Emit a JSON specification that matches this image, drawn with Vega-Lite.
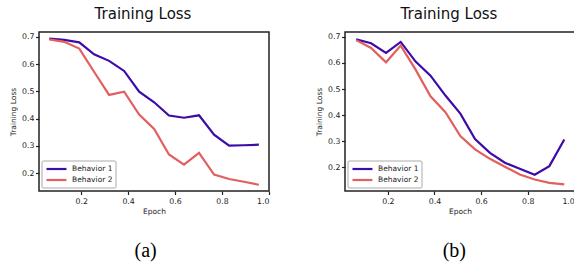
{
  "$schema": "https://vega.github.io/schema/vega-lite/v6.json",
  "background": "white",
  "padding": {"left": 8, "top": 6, "right": 0, "bottom": 0},
  "spacing": 43,
  "config": {
    "view": {"stroke": "#222", "strokeWidth": 1.5, "strokeOpacity": 1},
    "font": "DejaVu Sans",
    "axis": {
      "domain": false, "grid": false, "tickSize": 3.5, "tickColor": "#222", "tickWidth": 1.2, "tickOpacity": 1,
      "labelFont": "DejaVu Sans", "labelFontSize": 7.8, "labelColor": "#222",
      "titleFont": "DejaVu Sans", "titleFontSize": 7.5, "titleFontWeight": "normal", "titleColor": "#222"
    },
    "axisX": {"labelPadding": 2.5, "titlePadding": 3},
    "axisY": {"labelPadding": 1.5, "titlePadding": 4},
    "legend": {
      "labelFont": "DejaVu Sans", "labelFontSize": 7.5, "labelColor": "#222"
    },
    "title": {"font": "DejaVu Sans", "fontSize": 15, "fontWeight": "normal", "color": "#111"}
  },
  "datasets": {
    "a": [
      {"epoch": 0.064, "loss": 0.694, "series": "Behavior 1"},
      {"epoch": 0.128, "loss": 0.689, "series": "Behavior 1"},
      {"epoch": 0.192, "loss": 0.680, "series": "Behavior 1"},
      {"epoch": 0.255, "loss": 0.636, "series": "Behavior 1"},
      {"epoch": 0.319, "loss": 0.612, "series": "Behavior 1"},
      {"epoch": 0.383, "loss": 0.575, "series": "Behavior 1"},
      {"epoch": 0.447, "loss": 0.499, "series": "Behavior 1"},
      {"epoch": 0.511, "loss": 0.460, "series": "Behavior 1"},
      {"epoch": 0.574, "loss": 0.411, "series": "Behavior 1"},
      {"epoch": 0.638, "loss": 0.403, "series": "Behavior 1"},
      {"epoch": 0.702, "loss": 0.412, "series": "Behavior 1"},
      {"epoch": 0.766, "loss": 0.341, "series": "Behavior 1"},
      {"epoch": 0.830, "loss": 0.301, "series": "Behavior 1"},
      {"epoch": 0.893, "loss": 0.302, "series": "Behavior 1"},
      {"epoch": 0.957, "loss": 0.304, "series": "Behavior 1"},
      {"epoch": 0.064, "loss": 0.691, "series": "Behavior 2"},
      {"epoch": 0.128, "loss": 0.682, "series": "Behavior 2"},
      {"epoch": 0.192, "loss": 0.657, "series": "Behavior 2"},
      {"epoch": 0.255, "loss": 0.572, "series": "Behavior 2"},
      {"epoch": 0.319, "loss": 0.487, "series": "Behavior 2"},
      {"epoch": 0.383, "loss": 0.499, "series": "Behavior 2"},
      {"epoch": 0.447, "loss": 0.415, "series": "Behavior 2"},
      {"epoch": 0.511, "loss": 0.362, "series": "Behavior 2"},
      {"epoch": 0.574, "loss": 0.268, "series": "Behavior 2"},
      {"epoch": 0.638, "loss": 0.231, "series": "Behavior 2"},
      {"epoch": 0.702, "loss": 0.274, "series": "Behavior 2"},
      {"epoch": 0.766, "loss": 0.194, "series": "Behavior 2"},
      {"epoch": 0.830, "loss": 0.178, "series": "Behavior 2"},
      {"epoch": 0.893, "loss": 0.168, "series": "Behavior 2"},
      {"epoch": 0.957, "loss": 0.157, "series": "Behavior 2"}
    ],
    "b": [
      {"epoch": 0.064, "loss": 0.690, "series": "Behavior 1"},
      {"epoch": 0.128, "loss": 0.675, "series": "Behavior 1"},
      {"epoch": 0.192, "loss": 0.638, "series": "Behavior 1"},
      {"epoch": 0.255, "loss": 0.680, "series": "Behavior 1"},
      {"epoch": 0.319, "loss": 0.605, "series": "Behavior 1"},
      {"epoch": 0.383, "loss": 0.551, "series": "Behavior 1"},
      {"epoch": 0.447, "loss": 0.475, "series": "Behavior 1"},
      {"epoch": 0.511, "loss": 0.406, "series": "Behavior 1"},
      {"epoch": 0.574, "loss": 0.309, "series": "Behavior 1"},
      {"epoch": 0.638, "loss": 0.256, "series": "Behavior 1"},
      {"epoch": 0.702, "loss": 0.218, "series": "Behavior 1"},
      {"epoch": 0.766, "loss": 0.195, "series": "Behavior 1"},
      {"epoch": 0.830, "loss": 0.172, "series": "Behavior 1"},
      {"epoch": 0.893, "loss": 0.205, "series": "Behavior 1"},
      {"epoch": 0.957, "loss": 0.307, "series": "Behavior 1"},
      {"epoch": 0.064, "loss": 0.687, "series": "Behavior 2"},
      {"epoch": 0.128, "loss": 0.657, "series": "Behavior 2"},
      {"epoch": 0.192, "loss": 0.602, "series": "Behavior 2"},
      {"epoch": 0.255, "loss": 0.666, "series": "Behavior 2"},
      {"epoch": 0.319, "loss": 0.574, "series": "Behavior 2"},
      {"epoch": 0.383, "loss": 0.472, "series": "Behavior 2"},
      {"epoch": 0.447, "loss": 0.411, "series": "Behavior 2"},
      {"epoch": 0.511, "loss": 0.320, "series": "Behavior 2"},
      {"epoch": 0.574, "loss": 0.269, "series": "Behavior 2"},
      {"epoch": 0.638, "loss": 0.233, "series": "Behavior 2"},
      {"epoch": 0.702, "loss": 0.203, "series": "Behavior 2"},
      {"epoch": 0.766, "loss": 0.173, "series": "Behavior 2"},
      {"epoch": 0.830, "loss": 0.154, "series": "Behavior 2"},
      {"epoch": 0.893, "loss": 0.141, "series": "Behavior 2"},
      {"epoch": 0.957, "loss": 0.135, "series": "Behavior 2"}
    ]
  },
  "hconcat": [
    {
      "title": {"text": "(a)", "orient": "bottom", "anchor": "middle", "font": "Liberation Serif", "fontSize": 20, "color": "#000", "offset": 25, "dx": 6},
      "resolve": {"scale": {"color": "independent"}, "legend": {"color": "independent"}},
      "vconcat": [
        {
          "title": {"text": "Training Loss", "anchor": "middle", "offset": 10, "dx": -11},
          "width": 230, "height": 159,
          "data": {"name": "a"},
          "mark": {"type": "line", "strokeWidth": 2.2},
          "encoding": {
            "x": {"field": "epoch", "type": "quantitative", "scale": {"domain": [0.0205, 1.0], "nice": false, "zero": false},
                  "axis": {"values": [0.2, 0.4, 0.6, 0.8, 1.0], "format": ".1f", "title": "Epoch"}},
            "y": {"field": "loss", "type": "quantitative", "scale": {"domain": [0.134, 0.718], "nice": false, "zero": false},
                  "axis": {"values": [0.2, 0.3, 0.4, 0.5, 0.6, 0.7], "format": ".1f", "title": "Training Loss"}},
            "color": {"field": "series", "type": "nominal",
                      "scale": {"domain": ["Behavior 1", "Behavior 2"], "range": ["#3d0ca8", "#e35f5f"]},
                      "legend": {"title": null, "orient": "bottom-left", "offset": 3, "symbolType": "M-1,0H4.7", "symbolSize": 49,
                                 "symbolStrokeWidth": 2.2, "strokeColor": "#c8c8c8", "fillColor": "white", "padding": 3, "cornerRadius": 2, "labelOffset": 17, "rowPadding": 1,
                                 "encode": {"legend": {"update": {"strokeWidth": {"value": 1.5}}}}}}
          }
        }
      ]
    },
    {
      "title": {"text": "(b)", "orient": "bottom", "anchor": "middle", "font": "Liberation Serif", "fontSize": 20, "color": "#000", "offset": 25, "dx": 9},
      "resolve": {"scale": {"color": "independent"}, "legend": {"color": "independent"}},
      "vconcat": [
        {
          "title": {"text": "Training Loss", "anchor": "middle", "offset": 10, "dx": -11},
          "width": 230, "height": 159,
          "data": {"name": "b"},
          "mark": {"type": "line", "strokeWidth": 2.2},
          "encoding": {
            "x": {"field": "epoch", "type": "quantitative", "scale": {"domain": [0.016, 1.003], "nice": false, "zero": false},
                  "axis": {"values": [0.2, 0.4, 0.6, 0.8, 1.0], "format": ".1f", "title": "Epoch"}},
            "y": {"field": "loss", "type": "quantitative", "scale": {"domain": [0.11, 0.718], "nice": false, "zero": false},
                  "axis": {"values": [0.2, 0.3, 0.4, 0.5, 0.6, 0.7], "format": ".1f", "title": "Training Loss"}},
            "color": {"field": "series", "type": "nominal",
                      "scale": {"domain": ["Behavior 1", "Behavior 2"], "range": ["#3d0ca8", "#e35f5f"]},
                      "legend": {"title": null, "orient": "bottom-left", "offset": 3, "symbolType": "M-1,0H4.7", "symbolSize": 49,
                                 "symbolStrokeWidth": 2.2, "strokeColor": "#c8c8c8", "fillColor": "white", "padding": 3, "cornerRadius": 2, "labelOffset": 17, "rowPadding": 1,
                                 "encode": {"legend": {"update": {"strokeWidth": {"value": 1.5}}}}}}
          }
        }
      ]
    }
  ],
  "resolve": {"scale": {"color": "independent"}, "legend": {"color": "independent"}}
}
